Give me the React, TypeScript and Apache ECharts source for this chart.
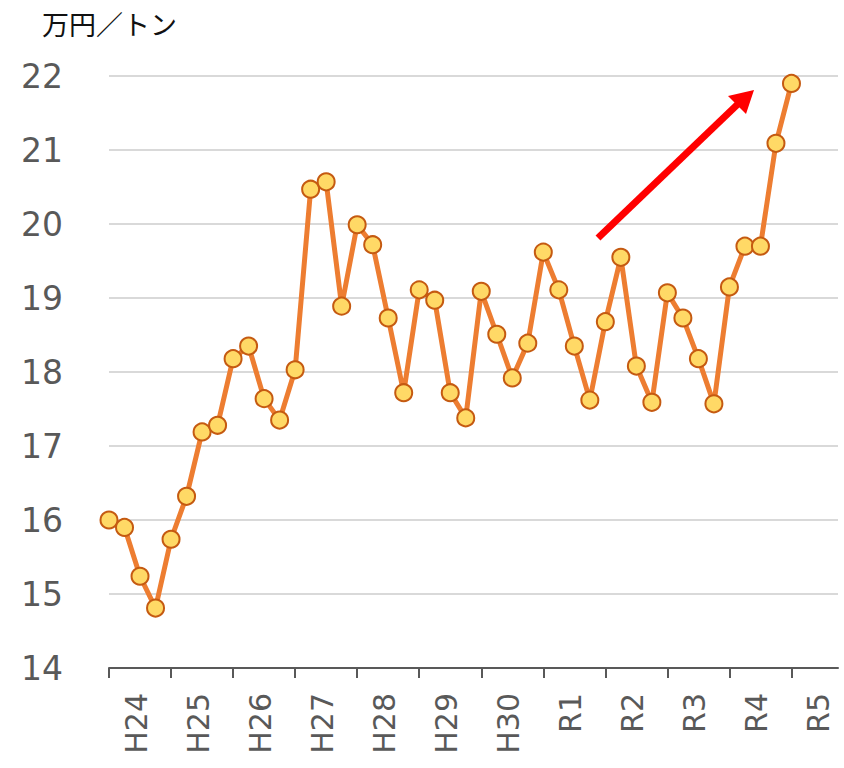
import React, { useEffect, useRef } from "react";
import * as echarts from "echarts";

const yearLabels = ["H24", "H25", "H26", "H27", "H28", "H29", "H30", "R1", "R2", "R3", "R4", "R5"];
const quartersPerYear = 4;
const prices = [
  16.0, 15.9, 15.24, 14.81,
  15.74, 16.32, 17.19, 17.28,
  18.18, 18.35, 17.64, 17.35,
  18.03, 20.47, 20.57, 18.89,
  19.99, 19.72, 18.73, 17.72,
  19.11, 18.97, 17.72, 17.38,
  19.09, 18.51, 17.92, 18.39,
  19.62, 19.11, 18.35, 17.62,
  18.68, 19.55, 18.08, 17.59,
  19.07, 18.73, 18.18, 17.57,
  19.15, 19.7, 19.7, 21.09,
  21.9,
];
const unitLabel = "万円／トン";
const yMin = 14;
const yMax = 22;

// main category axis: one slot per quarter
const categories: string[] = [];
yearLabels.forEach((y) => {
  for (let q = 0; q < quartersPerYear; q++) categories.push(q === 0 ? y : "");
});

// label axis: finer sub-steps so each year label sits slightly right of its tick
const subSteps = 4;
const labelOffsetSteps = 7;
const labelSlots: string[] = [];
const nSlots = (categories.length - 1) * subSteps + 1;
for (let i = 0; i < nSlots; i++) {
  const k = (i - labelOffsetSteps) / (quartersPerYear * subSteps);
  labelSlots.push(Number.isInteger(k) && k >= 0 && k < yearLabels.length ? yearLabels[k] : "");
}

export default function App() {
  const ref = useRef<HTMLDivElement>(null);
  useEffect(() => {
    if (!ref.current) return;
    const chart = echarts.init(ref.current, null, { renderer: "svg" });
    const axisColor = "#595959";
    chart.setOption({
      animation: false,
      backgroundColor: "#ffffff",
      title: {
        text: unitLabel,
        left: 37,
        top: 5,
        textStyle: {
          fontFamily: "Noto Sans CJK JP",
          fontSize: 27,
          fontWeight: "normal",
          color: "#111111",
        },
      },
      grid: { left: 109, top: 76, width: 729, height: 592, containLabel: false },
      xAxis: [
        {
          type: "category",
          data: categories,
          boundaryGap: false,
          axisLine: { show: true, lineStyle: { color: axisColor, width: 2 } },
          axisTick: { show: true, interval: 3, length: 10, lineStyle: { color: axisColor, width: 2 } },
          axisLabel: { show: false },
          splitLine: { show: false },
        },
        {
          type: "category",
          data: labelSlots,
          position: "bottom",
          boundaryGap: false,
          axisLine: { show: false },
          axisTick: { show: false },
          splitLine: { show: false },
          axisLabel: {
            interval: (idx: number, val: string) => val !== "",
            rotate: 90,
            margin: 25,
            fontFamily: "DejaVu Sans",
            fontSize: 30,
            color: axisColor,
          },
        },
      ],
      yAxis: {
        type: "value",
        min: yMin,
        max: yMax,
        interval: 1,
        axisLine: { show: false },
        axisTick: { show: false },
        axisLabel: {
          margin: 46,
          fontFamily: "DejaVu Sans",
          fontSize: 33,
          color: axisColor,
        },
        splitLine: { show: true, lineStyle: { color: "#d9d9d9", width: 2 } },
      },
      series: [
        {
          type: "line",
          xAxisIndex: 0,
          data: prices,
          symbol: "circle",
          symbolSize: 17,
          showAllSymbol: true,
          lineStyle: { color: "#ED7D31", width: 5 },
          itemStyle: { color: "#FFD966", borderColor: "#C55A11", borderWidth: 2 },
          z: 3,
        },
      ],
      graphic: [
        {
          type: "line",
          shape: { x1: 598, y1: 238, x2: 739, y2: 103 },
          style: { stroke: "#FF0000", lineWidth: 7 },
          z: 10,
        },
        {
          type: "polygon",
          shape: { points: [[754, 90], [728, 96], [746, 114]] },
          style: { fill: "#FF0000" },
          z: 10,
        },
      ],
    });
    return () => chart.dispose();
  }, []);
  return (
    <div
      ref={ref}
      style={{ position: "absolute", left: 0, top: 0, width: 844, height: 768 }}
    />
  );
}
